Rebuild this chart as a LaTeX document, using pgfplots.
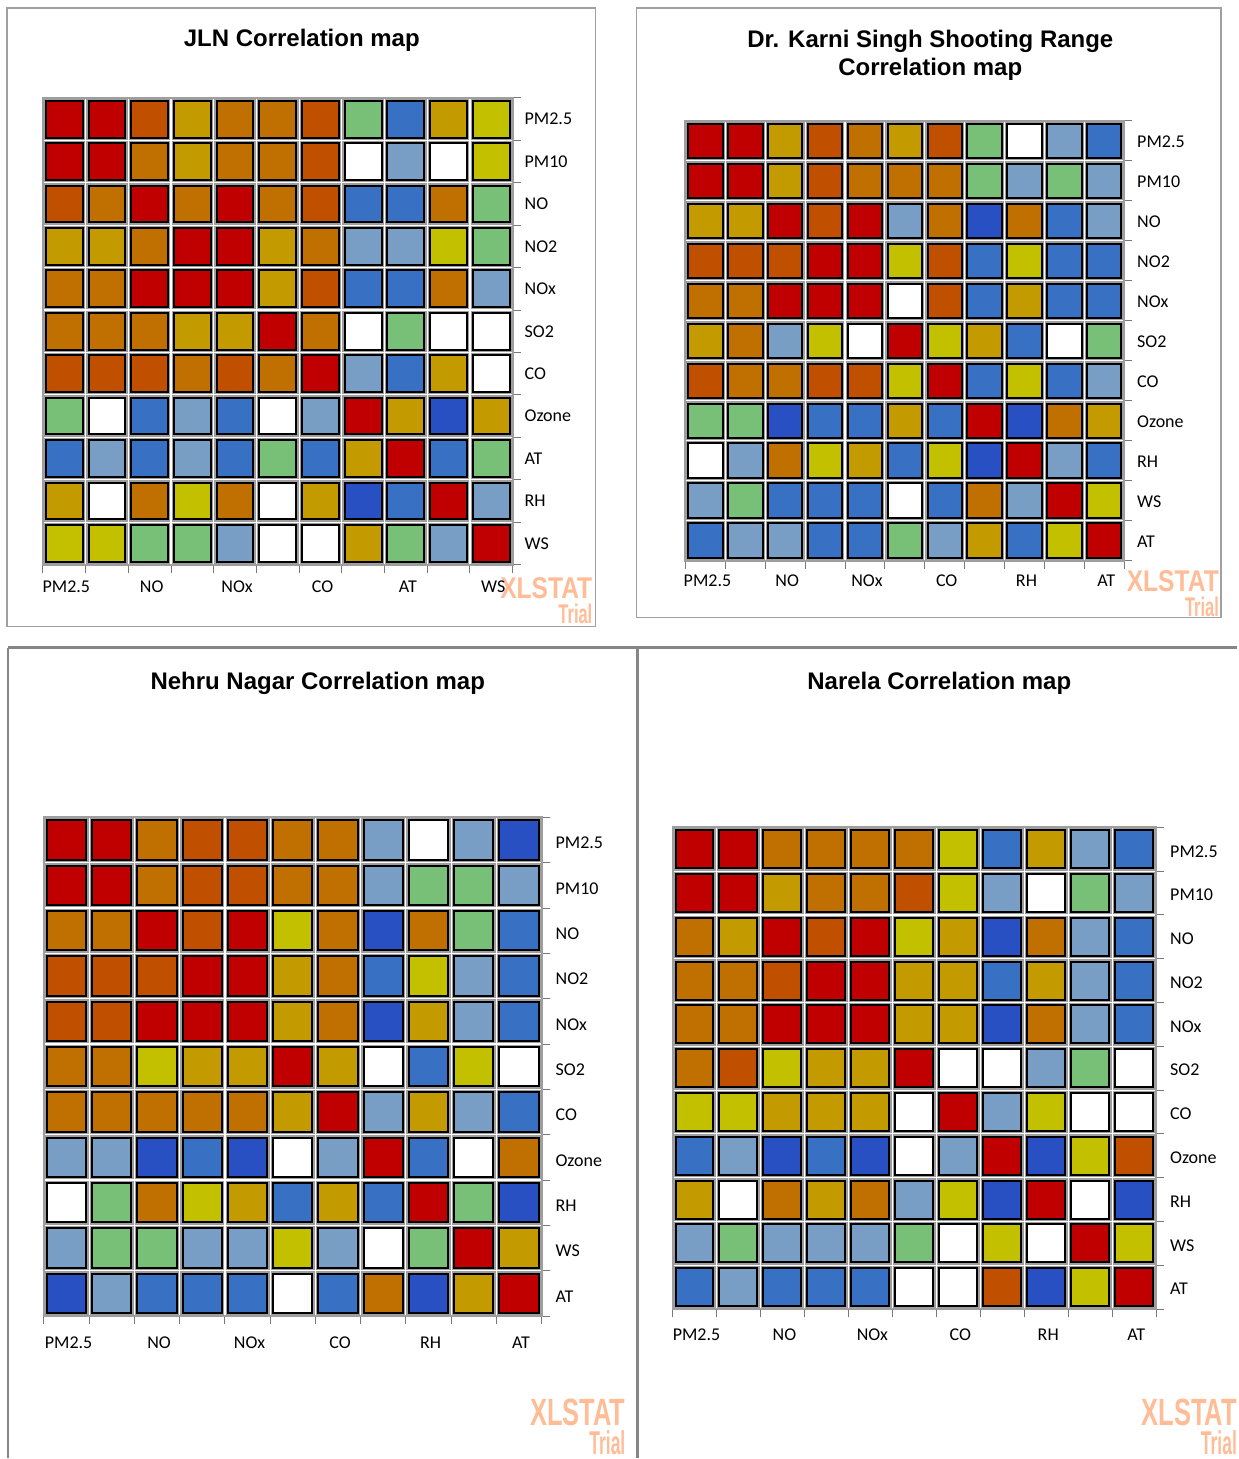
\documentclass[border=0pt]{standalone}
\usepackage{pgfplots}
\pgfplotsset{compat=1.18}
\usepackage{pgfplotstable}
\usepackage{fontspec}
\setmainfont{Carlito}
\newfontfamily\arialfont{Liberation Sans}

% cell colours, strongest positive to strongest negative
\definecolor{cR}{RGB}{192,0,0}
\definecolor{cD}{RGB}{192,80,0}
\definecolor{cO}{RGB}{192,112,0}
\definecolor{cG}{RGB}{195,154,0}
\definecolor{cY}{RGB}{195,192,0}
\definecolor{cN}{RGB}{120,192,120}
\definecolor{cW}{RGB}{255,255,255}
\definecolor{cL}{RGB}{120,158,198}
\definecolor{cB}{RGB}{56,112,195}
\definecolor{cK}{RGB}{40,80,195}
\definecolor{cGrid}{RGB}{158,158,158}
\definecolor{cTick}{RGB}{120,120,120}
\definecolor{cFrame}{RGB}{160,160,160}
\definecolor{cMark}{RGB}{255,188,150}

\pgfplotsset{
  corrmap/.style={
    scale only axis, anchor=north west,
    xmin=-0.5, xmax=10.5, ymin=-0.5, ymax=10.5, y dir=reverse,
    axis background/.style={fill=cGrid},
    axis line style={draw=cGrid, line width=1pt},
    xtick={0,2,...,10}, ytick={0,...,10},
    minor xtick={-0.5,0.5,...,10.5}, minor ytick={-0.5,0.5,...,10.5},
    xtick pos=left, ytick pos=right, yticklabel pos=right,
    major tick length=0pt, minor tick length=4pt, tick align=outside,
    minor tick style={draw=cTick, line width=0.5pt},
    xminorgrids=true, yminorgrids=true,
    minor grid style={draw=white, line width=0.6pt},
    ticklabel style={font=\fontsize{9}{11}\selectfont, text=black},
    clip=false,
  },
  cell/.style={
    scatter, only marks, mark=square*, mark size=#1,
    point meta=explicit symbolic,
    scatter/classes={
      R={draw=black, fill=cR, line width=1pt},
      D={draw=black, fill=cD, line width=1pt},
      O={draw=black, fill=cO, line width=1pt},
      G={draw=black, fill=cG, line width=1pt},
      Y={draw=black, fill=cY, line width=1pt},
      N={draw=black, fill=cN, line width=1pt},
      W={draw=black, fill=cW, line width=1pt},
      L={draw=black, fill=cL, line width=1pt},
      B={draw=black, fill=cB, line width=1pt},
      K={draw=black, fill=cK, line width=1pt}},
  },
}

% R red, D dark orange, O orange, G gold, Y yellow, N green,
% W white, L light blue, B blue, K dark blue
\pgfplotstableread{
c0 c1 c2 c3 c4 c5 c6 c7 c8 c9 c10
R R D G O O D N B G Y
R R O G O O D W L W Y
D O R O R O D B B O N
G G O R R G O L L Y N
O O R R R G D B B O L
O O O G G R O W N W W
D D D O D O R L B G W
N W B L B W L R G K G
B L B L B N B G R B N
G W O Y O W G K B R L
Y Y N N L W W G N L R
}\tabJLN

\pgfplotstableread{
c0 c1 c2 c3 c4 c5 c6 c7 c8 c9 c10
R R G D O G D N W L B
R R G D O O O N L N L
G G R D R L O K O B L
D D D R R Y D B Y B B
O O R R R W D B G B B
G O L Y W R Y G B W N
D O O D D Y R B Y B L
N N K B B G B R K O G
W L O Y G B Y K R L B
L N B B B W B O L R Y
B L L B B N L G B Y R
}\tabKarni

\pgfplotstableread{
c0 c1 c2 c3 c4 c5 c6 c7 c8 c9 c10
R R O D D O O L W L K
R R O D D O O L N N L
O O R D R Y O K O N B
D D D R R G O B Y L B
D D R R R G O K G L B
O O Y G G R G W B Y W
O O O O O G R L G L B
L L K B K W L R B W O
W N O Y G B G B R N K
L N N L L Y L W N R G
K L B B B W B O K G R
}\tabNehru

\pgfplotstableread{
c0 c1 c2 c3 c4 c5 c6 c7 c8 c9 c10
R R O O O O Y B G L B
R R G O O D Y L W N L
O G R D R Y G K O L B
O O D R R G G B G L B
O O R R R G G K O L B
O D Y G G R W W L N W
Y Y G G G W R L Y W W
B L K B K W L R K Y D
G W O G O L Y K R W K
L N L L L N W Y W R Y
B L B B B W W D K Y R
}\tabNarela

\begin{document}
\begin{tikzpicture}
% page extent and panel frames
\begin{scope}[x=0.5pt, y=-0.5pt]
  \path (0,0) rectangle (1238,1459);
  \draw[cFrame, line width=0.6pt] (7,8) rectangle (596,627);
  \draw[cFrame, line width=0.6pt] (637,8) rectangle (1222,618);
  \draw[cTick!90, line width=1.1pt] (8,648) -- (1238,648);
  \draw[cTick!90, line width=1.1pt] (8,648) -- (8,1459);
  \draw[cTick!90, line width=1.1pt] (638,648) -- (638,1459);
  % titles
  \begin{scope}[every node/.style={font=\arialfont\bfseries\fontsize{12}{14}\selectfont, inner sep=0pt}]
    \node at (302,40) {JLN Correlation map};
    \node[align=center] at (931,55) {Dr. Karni Singh Shooting Range\\[0.1pt]Correlation map};
    \node at (318,684) {Nehru Nagar Correlation map};
    \node at (940,684) {Narela Correlation map};
  \end{scope}
  % XLSTAT trial stamps
  \begin{scope}[every node/.style={text=cMark, inner sep=0pt, anchor=east}]
    \foreach \xr/\ya/\yb/\sa/\xa/\sb/\xb in
      {593/589/614/15/0.82/13.5/0.61,
       1220/582/607/15/0.82/13.5/0.61,
       626/1413/1444/19/0.67/16.5/0.53,
       1238/1413/1444/19/0.67/16.5/0.53}{
      \node[font=\arialfont\bfseries\fontsize{\sa}{\sa}\selectfont, xscale=\xa] at (\xr,\ya) {XLSTAT};
      \node[font=\arialfont\bfseries\fontsize{\sb}{\sb}\selectfont, xscale=\xb] at (\xr,\yb) {Trial};
    }
  \end{scope}
\end{scope}

% JLN
\begin{axis}[corrmap, at={(21.5pt,-49pt)}, width=235pt, height=233.5pt,
  xticklabels={PM2.5,NO,NOx,CO,AT,WS},
  yticklabels={PM2.5,PM10,NO,NO2,NOx,SO2,CO,Ozone,AT,RH,WS},
  xticklabel style={yshift=-4.5pt, xshift=1pt}, yticklabel style={xshift=2.5pt}]
  \pgfplotsinvokeforeach{0,...,10}{
    \addplot[cell=9.2pt] table[x expr=#1, y expr=\coordindex, meta=c#1]{\tabJLN};
  }
\end{axis}

% Dr. Karni Singh Shooting Range
\begin{axis}[corrmap, at={(343pt,-60.5pt)}, width=219.5pt, height=220pt,
  xticklabels={PM2.5,NO,NOx,CO,RH,AT},
  yticklabels={PM2.5,PM10,NO,NO2,NOx,SO2,CO,Ozone,RH,WS,AT},
  xticklabel style={yshift=-3.5pt, xshift=1pt}, yticklabel style={xshift=3pt, yshift=-0.5pt}]
  \pgfplotsinvokeforeach{0,...,10}{
    \addplot[cell=8.6pt] table[x expr=#1, y expr=\coordindex, meta=c#1]{\tabKarni};
  }
\end{axis}

% Nehru Nagar
\begin{axis}[corrmap, at={(22pt,-409pt)}, width=249pt, height=249.5pt,
  xticklabels={PM2.5,NO,NOx,CO,RH,AT},
  yticklabels={PM2.5,PM10,NO,NO2,NOx,SO2,CO,Ozone,RH,WS,AT},
  xticklabel style={yshift=-7pt, xshift=1pt}, yticklabel style={xshift=3.5pt, yshift=-1.5pt}]
  \pgfplotsinvokeforeach{0,...,10}{
    \addplot[cell=9.8pt] table[x expr=#1, y expr=\coordindex, meta=c#1]{\tabNehru};
  }
\end{axis}

% Narela
\begin{axis}[corrmap, at={(336.5pt,-414pt)}, width=242pt, height=241pt,
  xticklabels={PM2.5,NO,NOx,CO,RH,AT},
  yticklabels={PM2.5,PM10,NO,NO2,NOx,SO2,CO,Ozone,RH,WS,AT},
  xticklabel style={yshift=-6.5pt, xshift=1pt}, yticklabel style={xshift=3.5pt, yshift=-1pt}]
  \pgfplotsinvokeforeach{0,...,10}{
    \addplot[cell=9.5pt] table[x expr=#1, y expr=\coordindex, meta=c#1]{\tabNarela};
  }
\end{axis}
\end{tikzpicture}
\end{document}
